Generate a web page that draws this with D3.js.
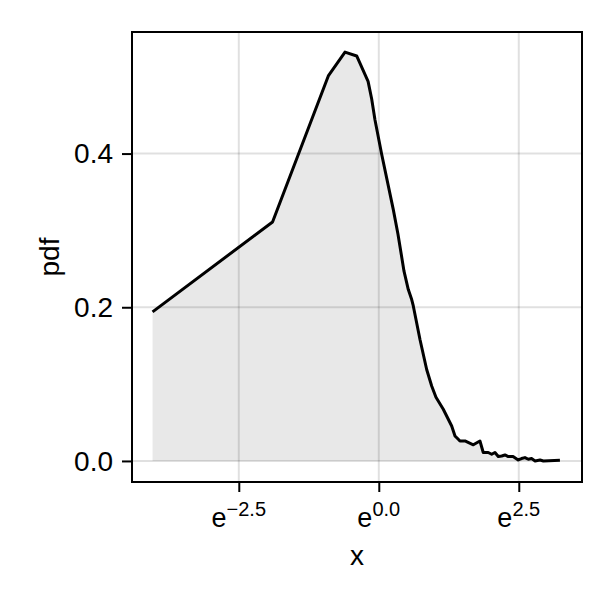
<!DOCTYPE html>
<html>
<head>
<meta charset="utf-8">
<script src="https://cdn.jsdelivr.net/npm/d3@7"></script>
<style>
html,body{margin:0;padding:0;background:#fff;}
svg{display:block;}
text{font-family:"Liberation Sans","Arial",sans-serif;fill:#000;}
</style>
</head>
<body>
<svg id="chart" width="614" height="602"></svg>
<script>
// Data (x in natural units, pdf values)
const xValues = [0.0176, 0.150, 0.406, 0.547, 0.674, 0.826, 0.881, 0.934, 1.053, 1.296, 1.409, 1.569, 1.694, 1.80, 1.852, 2.087, 2.352, 2.572, 2.777, 3.164, 3.676, 3.90, 4.135, 4.26, 4.66, 5.41, 6.09, 6.46, 7.06, 7.51, 7.96, 8.45, 8.98, 9.52, 10.10, 11.0, 12.06, 12.8, 13.6, 14.44, 15.3, 16.3, 17.8, 18.9, 25.4];
const pdfValues = [0.194, 0.311, 0.501, 0.532, 0.527, 0.494, 0.471, 0.444, 0.399, 0.327, 0.295, 0.247, 0.223, 0.210, 0.2017, 0.158, 0.119, 0.0976, 0.083, 0.0673, 0.0455, 0.0325, 0.0282, 0.026, 0.026, 0.021, 0.026, 0.011, 0.011, 0.0087, 0.011, 0.0057, 0.0065, 0.0078, 0.0057, 0.0057, 0.0013, 0.0031, 0.0044, 0.0022, 0.0031, 0.0, 0.0013, 0.0, 0.001];
const xTickExponents = [-2.5, 0.0, 2.5];
const xTickLabels = ["\u22122.5", "0.0", "2.5"];
const yTicks = [0.0, 0.2, 0.4];
const yTickLabels = ["0.0", "0.2", "0.4"];
const xLabel = "x";
const yLabel = "pdf";

(function () {
const data = xValues.map((v, i) => ({x: v, y: pdfValues[i]}));

const mLeft = 132, mRight = 582, mTop = 32, mBottom = 482;
const svg = d3.select("#chart");

const x = d3.scaleLog().base(Math.E)
  .domain([Math.exp(-4.407), Math.exp(3.629)])
  .range([mLeft, mRight]);
const y = d3.scaleLinear()
  .domain([-0.0274, 0.5582])
  .range([mBottom, mTop]);

const xTicks = xTickExponents.map(e => Math.exp(e));

// grid
const grid = svg.append("g");
grid.selectAll("line.gx").data(xTicks).join("line")
  .attr("x1", d => x(d)).attr("x2", d => x(d))
  .attr("y1", mTop).attr("y2", mBottom)
  .attr("stroke", "rgba(0,0,0,0.12)").attr("stroke-width", 2);
grid.selectAll("line.gy").data(yTicks).join("line")
  .attr("y1", d => y(d)).attr("y2", d => y(d))
  .attr("x1", mLeft).attr("x2", mRight)
  .attr("stroke", "rgba(0,0,0,0.12)").attr("stroke-width", 2);

// area fill
const area = d3.area().x(d => x(d.x)).y0(y(0)).y1(d => y(d.y));
svg.append("path").datum(data)
  .attr("d", area)
  .attr("fill", "rgba(0,0,0,0.09)");

// line
const line = d3.line().x(d => x(d.x)).y(d => y(d.y));
svg.append("path").datum(data)
  .attr("d", line)
  .attr("fill", "none")
  .attr("stroke", "#000")
  .attr("stroke-width", 3)
  .attr("stroke-linejoin", "round");

// frame
svg.append("rect")
  .attr("x", mLeft).attr("y", mTop)
  .attr("width", mRight - mLeft).attr("height", mBottom - mTop)
  .attr("fill", "none").attr("stroke", "#000").attr("stroke-width", 2);

// x axis ticks
const xAxis = d3.axisBottom(x).tickValues(xTicks).tickSize(10).tickFormat("");
const gx = svg.append("g").attr("transform", `translate(0,${mBottom})`).call(xAxis);
gx.select(".domain").remove();
gx.selectAll(".tick line").attr("stroke-width", 2);

const xl = svg.append("g").selectAll("text").data(xTicks).join("text")
  .attr("x", d => x(d))
  .attr("y", 527)
  .attr("text-anchor", "middle")
  .style("font-size", "27px");
xl.append("tspan").text("e");
xl.append("tspan").attr("dy", -11).style("font-size", "20px").text((d, i) => xTickLabels[i]);

// y axis ticks
const yAxis = d3.axisLeft(y).tickValues(yTicks).tickSize(10).tickFormat("");
const gy = svg.append("g").attr("transform", `translate(${mLeft},0)`).call(yAxis);
gy.select(".domain").remove();
gy.selectAll(".tick line").attr("stroke-width", 2);

svg.append("g").selectAll("text").data(yTicks).join("text")
  .attr("x", 113)
  .attr("y", d => y(d))
  .attr("dy", "0.35em")
  .attr("text-anchor", "end")
  .style("font-size", "28px")
  .text((d, i) => yTickLabels[i]);

// axis labels
svg.append("text")
  .attr("x", (mLeft + mRight) / 2).attr("y", 565)
  .attr("text-anchor", "middle")
  .style("font-size", "28px")
  .text(xLabel);
svg.append("text")
  .attr("transform", `translate(59,${(mTop + mBottom) / 2}) rotate(-90)`)
  .attr("text-anchor", "middle")
  .style("font-size", "28px")
  .text(yLabel);
})();
</script>
</body>
</html>
